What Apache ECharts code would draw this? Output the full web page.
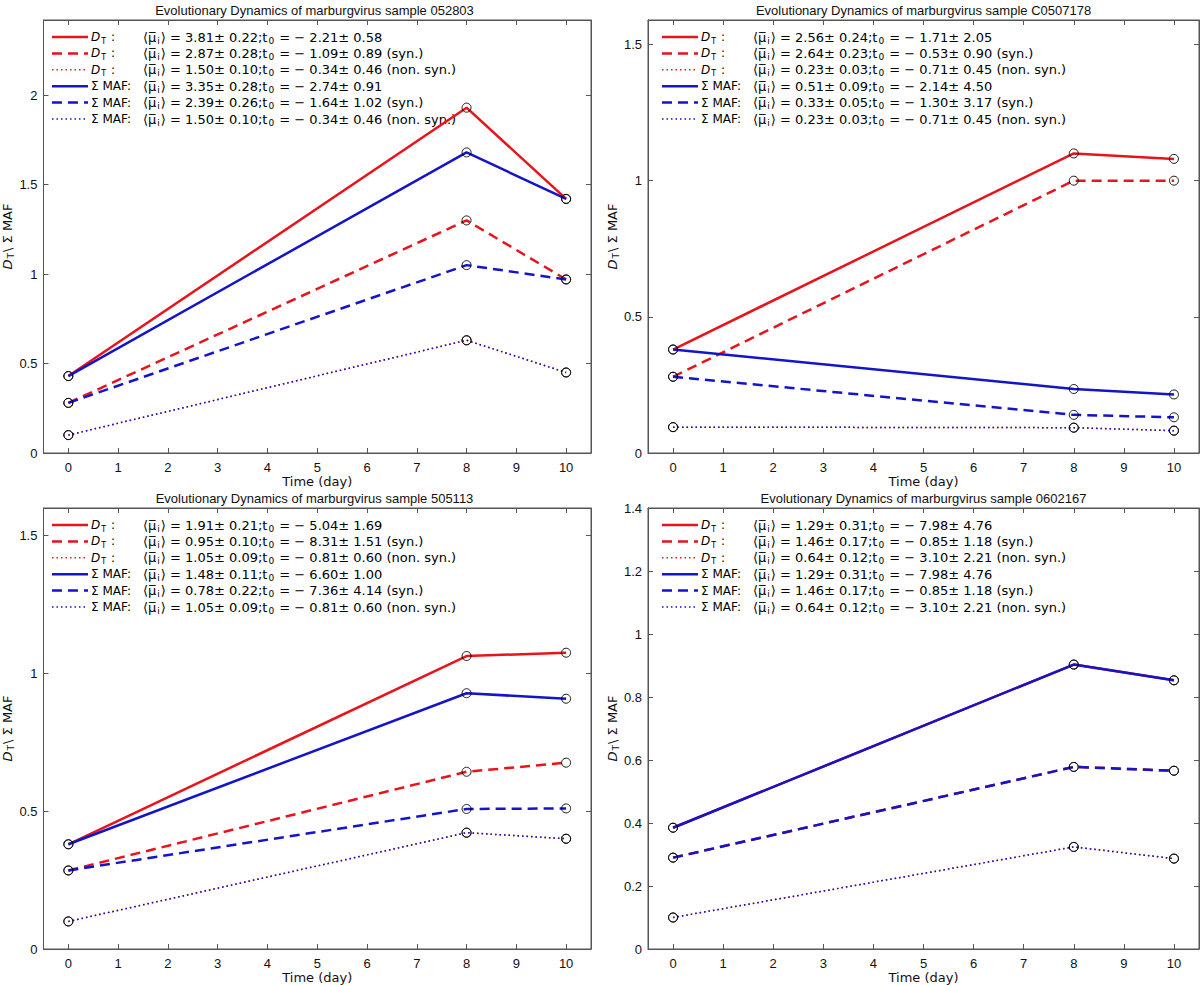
<!DOCTYPE html>
<html><head><meta charset="utf-8">
<script src="https://cdn.jsdelivr.net/npm/echarts@6/dist/echarts.min.js"></script>
<style>html,body{margin:0;background:#fff}#c{width:1200px;height:985px}</style>
</head><body><div id="c"></div>
<script>
// ---------- data ----------
const days = [0, 8, 10];
const xTicks = [0, 1, 2, 3, 4, 5, 6, 7, 8, 9, 10];
const samples = ['052803', 'C0507178', '505113', '0602167'];

// sample 052803
const dt_052803       = [0.43, 1.93, 1.42];
const dtSyn_052803    = [0.28, 1.30, 0.97];
const dtNon_052803    = [0.10, 0.63, 0.45];
const maf_052803      = [0.43, 1.68, 1.42];
const mafSyn_052803   = [0.28, 1.05, 0.97];
const mafNon_052803   = [0.10, 0.63, 0.45];
// sample C0507178
const dt_C0507178     = [0.38, 1.10, 1.08];
const dtSyn_C0507178  = [0.28, 1.00, 1.00];
const dtNon_C0507178  = [0.095, 0.093, 0.082];
const maf_C0507178    = [0.38, 0.235, 0.215];
const mafSyn_C0507178 = [0.28, 0.14, 0.131];
const mafNon_C0507178 = [0.095, 0.093, 0.082];
// sample 505113
const dt_505113       = [0.38, 1.063, 1.075];
const dtSyn_505113    = [0.285, 0.643, 0.676];
const dtNon_505113    = [0.10, 0.422, 0.40];
const maf_505113      = [0.38, 0.928, 0.908];
const mafSyn_505113   = [0.285, 0.508, 0.51];
const mafNon_505113   = [0.10, 0.422, 0.40];
// sample 0602167
const dt_0602167      = [0.385, 0.903, 0.853];
const dtSyn_0602167   = [0.29, 0.578, 0.566];
const dtNon_0602167   = [0.10, 0.324, 0.287];
const maf_0602167     = [0.385, 0.903, 0.853];
const mafSyn_0602167  = [0.29, 0.578, 0.566];
const mafNon_0602167  = [0.10, 0.324, 0.287];

// legend statistics: [mu, muErr, t0, t0Err]
const stats_052803 = [[3.81,0.22,-2.21,0.58],[2.87,0.28,-1.09,0.89],[1.50,0.10,-0.34,0.46],[3.35,0.28,-2.74,0.91],[2.39,0.26,-1.64,1.02],[1.50,0.10,-0.34,0.46]];
const stats_C0507178 = [[2.56,0.24,-1.71,2.05],[2.64,0.23,-0.53,0.90],[0.23,0.03,-0.71,0.45],[0.51,0.09,-2.14,4.50],[0.33,0.05,-1.30,3.17],[0.23,0.03,-0.71,0.45]];
const stats_505113 = [[1.91,0.21,-5.04,1.69],[0.95,0.10,-8.31,1.51],[1.05,0.09,-0.81,0.60],[1.48,0.11,-6.60,1.00],[0.78,0.22,-7.36,4.14],[1.05,0.09,-0.81,0.60]];
const stats_0602167 = [[1.29,0.31,-7.98,4.76],[1.46,0.17,-0.85,1.18],[0.64,0.12,-3.10,2.21],[1.29,0.31,-7.98,4.76],[1.46,0.17,-0.85,1.18],[0.64,0.12,-3.10,2.21]];
const rowSuffix = ['', ' (syn.)', ' (non. syn.)', '', ' (syn.)', ' (non. syn.)'];

const yMax = [2.42, 1.59, 1.6, 1.4];
const yTicks = [[0, 0.5, 1, 1.5, 2], [0, 0.5, 1, 1.5], [0, 0.5, 1, 1.5], [0, 0.2, 0.4, 0.6, 0.8, 1, 1.2, 1.4]];

// ---------- styling ----------
const panelData = [
  [dt_052803, dtSyn_052803, dtNon_052803, maf_052803, mafSyn_052803, mafNon_052803],
  [dt_C0507178, dtSyn_C0507178, dtNon_C0507178, maf_C0507178, mafSyn_C0507178, mafNon_C0507178],
  [dt_505113, dtSyn_505113, dtNon_505113, maf_505113, mafSyn_505113, mafNon_505113],
  [dt_0602167, dtSyn_0602167, dtNon_0602167, maf_0602167, mafSyn_0602167, mafNon_0602167]
];
const panelStats = [stats_052803, stats_C0507178, stats_505113, stats_0602167];
const RED = '#e8141c', BLUE = '#1414c8';
const FONT = "'Liberation Sans', Arial, Helvetica, sans-serif";
const WFONT = "'DejaVu Sans', 'Liberation Sans', sans-serif";
const styles = [
  {c: RED, w: 2.5, t: 'solid'}, {c: RED, w: 2.5, t: [10, 6]}, {c: RED, w: 1.5, t: [1.5, 3]},
  {c: BLUE, w: 2.5, t: 'solid'}, {c: BLUE, w: 2.5, t: [10, 6]}, {c: BLUE, w: 1.5, t: [1.5, 3]}
];
const grids = [
  {left: 38, top: 20, width: 553, height: 433},
  {left: 648, top: 20, width: 551, height: 433},
  {left: 38, top: 508, width: 553, height: 445},
  {left: 648, top: 508, width: 551, height: 445}
];
const AX = '#555';
function rich(fs) {
  return {
    it: {fontStyle: 'italic', fontSize: fs, fontFamily: WFONT, color: '#111', lineHeight: 16, verticalAlign: 'middle'},
    sub: {fontSize: fs - 4, fontFamily: WFONT, color: '#111', lineHeight: 16, verticalAlign: 'bottom', padding: [0, 1, 0, 1]},
    n: {fontSize: fs, fontFamily: WFONT, color: '#111', lineHeight: 16, verticalAlign: 'middle'}
  };
}
const richStats = rich(13);
const richLabel = rich(12);
const richName = rich(13);

const xAxes = [], yAxes = [], series = [], graphics = [];
grids.forEach((g, i) => {
  const tickStyle = {show: true, inside: true, length: 5, lineStyle: {color: AX}};
  const line = {show: true, onZero: false, lineStyle: {color: AX}};
  xAxes.push({type: 'value', gridIndex: i, min: -0.5, max: 10.5, position: 'bottom',
    axisLine: line, splitLine: {show: false},
    axisTick: Object.assign({customValues: xTicks}, tickStyle),
    axisLabel: {customValues: xTicks, color: '#111', fontSize: 13, fontFamily: FONT, margin: 8},
    name: 'Time (day)', nameLocation: 'middle', nameGap: 22,
    nameTextStyle: {color: '#111', fontSize: 13, fontFamily: WFONT}});
  xAxes.push({type: 'value', gridIndex: i, min: -0.5, max: 10.5, position: 'top',
    axisLine: line, splitLine: {show: false},
    axisTick: Object.assign({customValues: xTicks}, tickStyle), axisLabel: {show: false}});
  yAxes.push({type: 'value', gridIndex: i, min: 0, max: yMax[i], position: 'left',
    axisLine: line, splitLine: {show: false},
    axisTick: Object.assign({customValues: yTicks[i]}, tickStyle),
    axisLabel: {customValues: yTicks[i], color: '#111', fontSize: 13, fontFamily: FONT, margin: 6},
    name: '{it|D}{sub|T}{n|\\ Σ MAF}', nameLocation: 'middle', nameGap: i % 2 === 0 ? 20 : 22, nameRotate: 90,
    nameTextStyle: {rich: richName}});
  yAxes.push({type: 'value', gridIndex: i, min: 0, max: yMax[i], position: 'right',
    axisLine: line, splitLine: {show: false},
    axisTick: Object.assign({customValues: yTicks[i]}, tickStyle), axisLabel: {show: false}});

  panelData[i].forEach((vals, k) => {
    const s = styles[k];
    series.push({type: 'line', xAxisIndex: 2 * i, yAxisIndex: 2 * i,
      data: days.map((d, j) => [d, vals[j]]),
      symbol: 'circle', symbolSize: 9,
      itemStyle: {color: 'rgba(0,0,0,0)', borderColor: '#000', borderWidth: 0.9},
      lineStyle: {color: s.c, width: s.w, type: s.t},
      emphasis: {disabled: true}, silent: true, z: 2 + k});
  });

  // title
  graphics.push({type: 'text', x: g.left + g.width / 2, y: g.top - 10,
    style: {text: 'Evolutionary Dynamics of marburgvirus sample ' + samples[i], align: 'center', verticalAlign: 'middle',
      fontSize: 13, fontFamily: FONT, fill: '#111'}});

  // legend block
  panelStats[i].forEach((st, k) => {
    const s = styles[k];
    const y = g.top + 17 + k * 16.4;
    graphics.push({type: 'line', shape: {x1: g.left + 14, y1: y, x2: g.left + 50, y2: y},
      style: {stroke: s.c, lineWidth: s.w, lineDash: s.t === 'solid' ? null : s.t}});
    const lab = k < 3 ? '{it|D}{sub|T}{n| :}' : '{n|Σ MAF:}';
    graphics.push({type: 'text', x: g.left + 53, y: y, style: {text: lab, verticalAlign: 'middle', rich: richLabel}});
    const f = v => (v < 0 ? '− ' : '') + Math.abs(v).toFixed(2);
    const txt = '{n|⟨μ\u0305}{sub|i}{n|⟩ = ' + f(st[0]) + '± ' + f(st[1]) + ';t}{sub|0}{n| = ' + f(st[2]) + '± ' + f(st[3]) + rowSuffix[k] + '}';
    graphics.push({type: 'text', x: g.left + 105, y: y, style: {text: txt, verticalAlign: 'middle', rich: richStats}});
  });
});

const chart = echarts.init(document.getElementById('c'), null, {renderer: 'svg'});
chart.setOption({
  animation: false,
  backgroundColor: '#fff',
  grid: grids.map(g => Object.assign({show: true, borderColor: AX, borderWidth: 1, backgroundColor: '#fff'}, g)),
  xAxis: xAxes, yAxis: yAxes, series: series, graphic: graphics
});
</script></body></html>
